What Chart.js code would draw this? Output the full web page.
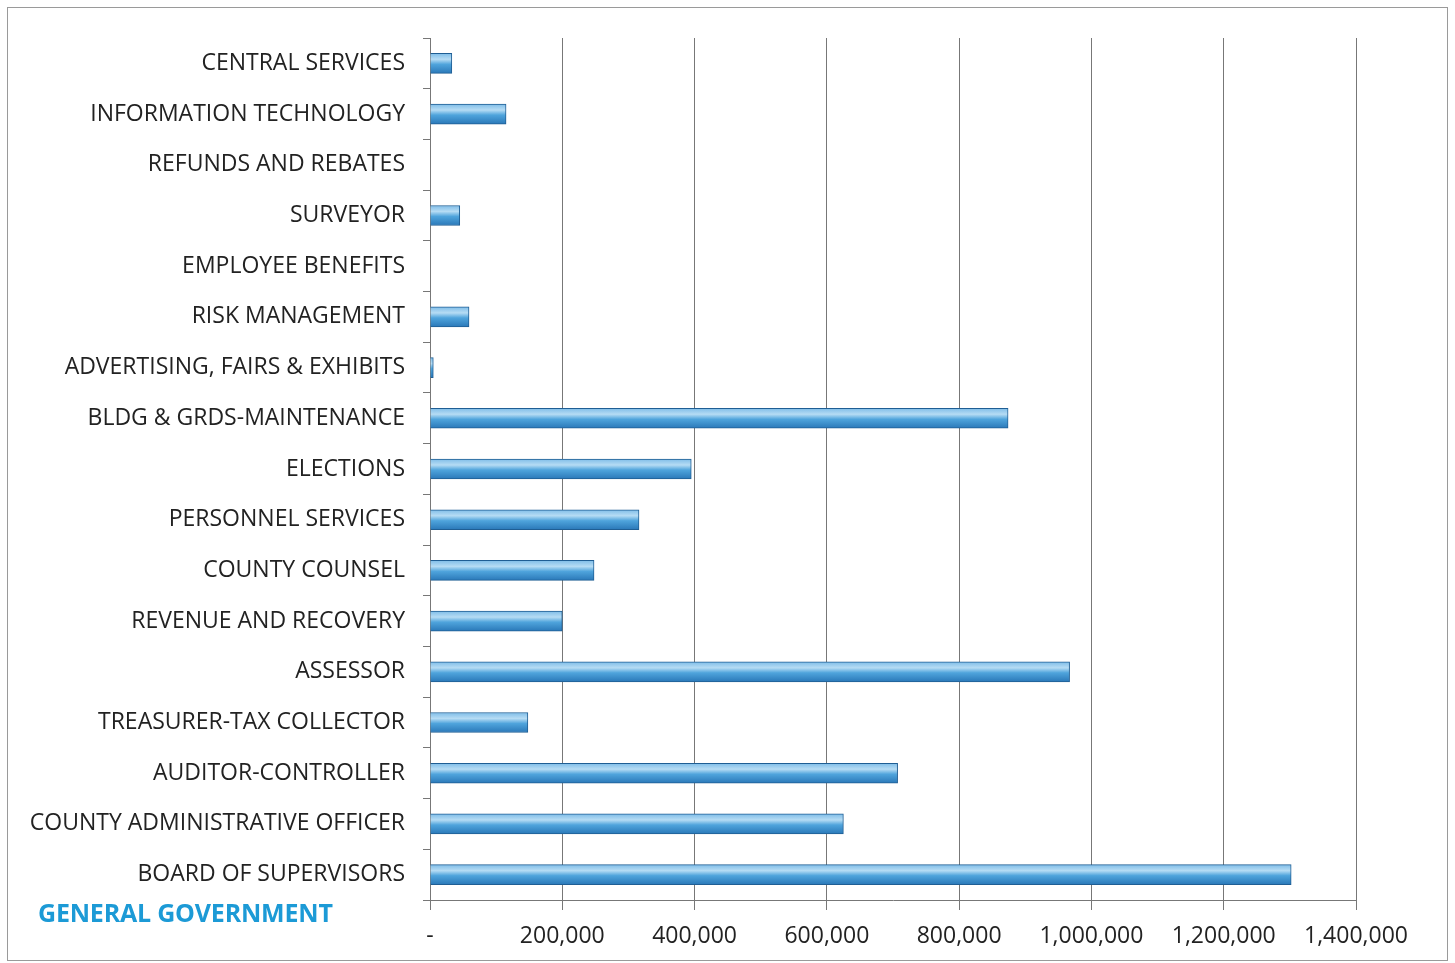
<!DOCTYPE html>
<html>
<head>
<meta charset="utf-8">
<script src="https://cdn.jsdelivr.net/npm/chart.js@4.4.0/dist/chart.umd.min.js"></script>
<style>
    body { margin: 0; background: #fff; }
    #wrap { position: relative; width: 1455px; height: 963px; }
    #frame { position: absolute; left: 7px; top: 7px; width: 1439px; height: 952px; border: 1px solid #9a9a9a; }
    #title { position: absolute; left: 38px; top: 895px; font-family: 'Open Sans', sans-serif; font-weight: bold;
             font-size: 25px; color: #1c9ad6; letter-spacing: -0.2px; }
</style>
</head>
<body>
<div id="wrap">
    <canvas id="barChart" width="1455" height="963"></canvas>
    <div id="frame"></div>
    <div id="title">GENERAL GOVERNMENT</div>
</div>
<script>
const categories = [
    'CENTRAL SERVICES',
    'INFORMATION TECHNOLOGY',
    'REFUNDS AND REBATES',
    'SURVEYOR',
    'EMPLOYEE BENEFITS',
    'RISK MANAGEMENT',
    'ADVERTISING, FAIRS & EXHIBITS',
    'BLDG & GRDS-MAINTENANCE',
    'ELECTIONS',
    'PERSONNEL SERVICES',
    'COUNTY COUNSEL',
    'REVENUE AND RECOVERY',
    'ASSESSOR',
    'TREASURER-TAX COLLECTOR',
    'AUDITOR-CONTROLLER',
    'COUNTY ADMINISTRATIVE OFFICER',
    'BOARD OF SUPERVISORS'
];
const amounts = [
    33000, 115000, 0, 45000, 0, 59000, 5000, 874000, 395000, 316000,
    248000, 200000, 967000, 148000, 707000, 625000, 1302000
];
const xTicks = [0, 200000, 400000, 600000, 800000, 1000000, 1200000, 1400000];

const font = { family: "'Open Sans', sans-serif", size: 23 };

function barFill(context) {
    const chart = context.chart;
    const yScale = chart.scales.y;
    if (!chart.chartArea || !yScale) return '#4a9fd8';
    const yc = yScale.getPixelForValue(context.dataIndex);
    const g = chart.ctx.createLinearGradient(0, yc - 10, 0, yc + 10);
    g.addColorStop(0, '#7fbde8');
    g.addColorStop(0.3, '#b6dcf4');
    g.addColorStop(0.55, '#4fa4dc');
    g.addColorStop(1, '#2a78b8');
    return g;
}

new Chart(document.getElementById('barChart').getContext('2d'), {
    type: 'bar',
    data: {
        labels: categories,
        datasets: [{
            data: amounts,
            backgroundColor: barFill,
            borderColor: '#1f5e94',
            borderWidth: 1,
            barThickness: 20
        }]
    },
    options: {
        indexAxis: 'y',
        responsive: false,
        animation: false,
        layout: { padding: { left: 10, top: 38, right: 99, bottom: 0 } },
        plugins: { legend: { display: false }, tooltip: { enabled: false } },
        scales: {
            x: {
                min: 0,
                max: 1400000,
                afterBuildTicks: scale => { scale.ticks = xTicks.map(v => ({ value: v })); },
                afterFit: scale => { scale.height = 63; },
                border: { color: '#777', width: 1 },
                grid: { color: '#777', lineWidth: 1, tickLength: 10 },
                ticks: {
                    color: '#222',
                    font: font,
                    padding: 13,
                    maxRotation: 0,
                    callback: v => v === 0 ? '-' : v.toLocaleString('en-US')
                }
            },
            y: {
                afterFit: scale => { scale.width = 420; },
                border: { color: '#777', width: 1 },
                grid: { drawOnChartArea: false, color: '#777', tickLength: 7, offset: true },
                ticks: { color: '#222', font: font, padding: 18 }
            }
        }
    }
});
</script>
</body>
</html>
